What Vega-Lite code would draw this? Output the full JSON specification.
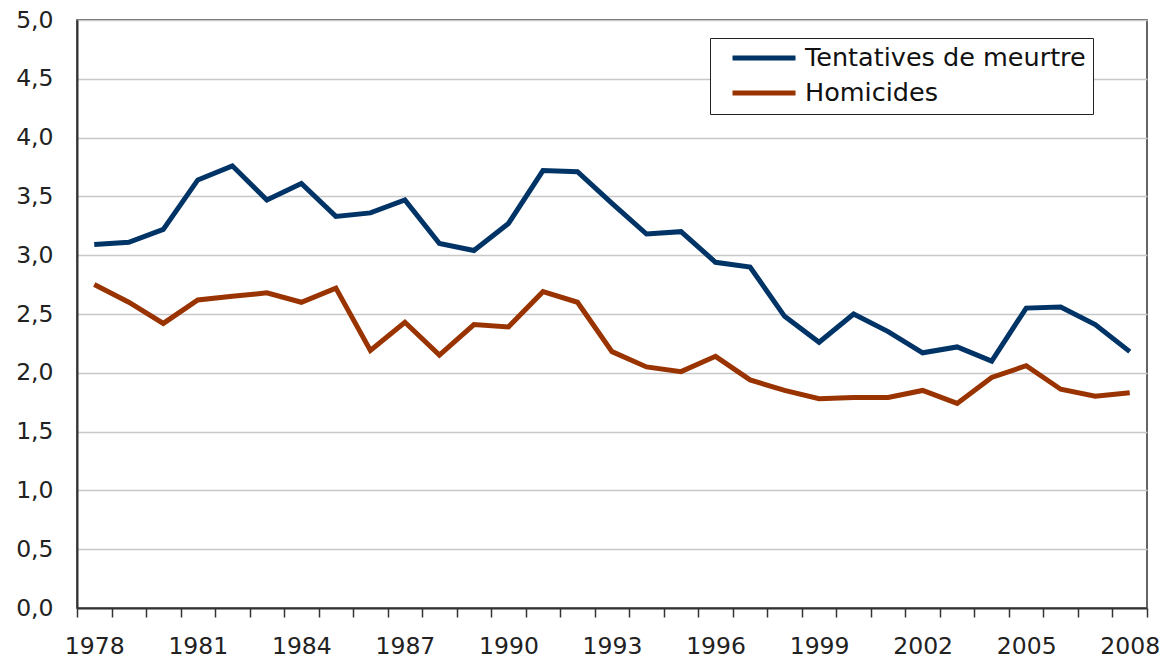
{
  "$schema": "https://vega.github.io/schema/vega-lite/v6.json",
  "width": 1070,
  "height": 588,
  "autosize": {"type": "none"},
  "padding": {"left": 77, "top": 20, "right": 16, "bottom": 51},
  "background": "white",
  "config": {"view": {"stroke": "#333333", "strokeWidth": 1.5}, "font": "DejaVu Sans"},
  "data": {"values": [
    {"annee": 1978, "serie": "Tentatives de meurtre", "taux": 3.09},
    {"annee": 1979, "serie": "Tentatives de meurtre", "taux": 3.11},
    {"annee": 1980, "serie": "Tentatives de meurtre", "taux": 3.22},
    {"annee": 1981, "serie": "Tentatives de meurtre", "taux": 3.64},
    {"annee": 1982, "serie": "Tentatives de meurtre", "taux": 3.76},
    {"annee": 1983, "serie": "Tentatives de meurtre", "taux": 3.47},
    {"annee": 1984, "serie": "Tentatives de meurtre", "taux": 3.61},
    {"annee": 1985, "serie": "Tentatives de meurtre", "taux": 3.33},
    {"annee": 1986, "serie": "Tentatives de meurtre", "taux": 3.36},
    {"annee": 1987, "serie": "Tentatives de meurtre", "taux": 3.47},
    {"annee": 1988, "serie": "Tentatives de meurtre", "taux": 3.10},
    {"annee": 1989, "serie": "Tentatives de meurtre", "taux": 3.04},
    {"annee": 1990, "serie": "Tentatives de meurtre", "taux": 3.27},
    {"annee": 1991, "serie": "Tentatives de meurtre", "taux": 3.72},
    {"annee": 1992, "serie": "Tentatives de meurtre", "taux": 3.71},
    {"annee": 1993, "serie": "Tentatives de meurtre", "taux": 3.44},
    {"annee": 1994, "serie": "Tentatives de meurtre", "taux": 3.18},
    {"annee": 1995, "serie": "Tentatives de meurtre", "taux": 3.20},
    {"annee": 1996, "serie": "Tentatives de meurtre", "taux": 2.94},
    {"annee": 1997, "serie": "Tentatives de meurtre", "taux": 2.90},
    {"annee": 1998, "serie": "Tentatives de meurtre", "taux": 2.48},
    {"annee": 1999, "serie": "Tentatives de meurtre", "taux": 2.26},
    {"annee": 2000, "serie": "Tentatives de meurtre", "taux": 2.50},
    {"annee": 2001, "serie": "Tentatives de meurtre", "taux": 2.35},
    {"annee": 2002, "serie": "Tentatives de meurtre", "taux": 2.17},
    {"annee": 2003, "serie": "Tentatives de meurtre", "taux": 2.22},
    {"annee": 2004, "serie": "Tentatives de meurtre", "taux": 2.10},
    {"annee": 2005, "serie": "Tentatives de meurtre", "taux": 2.55},
    {"annee": 2006, "serie": "Tentatives de meurtre", "taux": 2.56},
    {"annee": 2007, "serie": "Tentatives de meurtre", "taux": 2.41},
    {"annee": 2008, "serie": "Tentatives de meurtre", "taux": 2.18},
    {"annee": 1978, "serie": "Homicides", "taux": 2.75},
    {"annee": 1979, "serie": "Homicides", "taux": 2.60},
    {"annee": 1980, "serie": "Homicides", "taux": 2.42},
    {"annee": 1981, "serie": "Homicides", "taux": 2.62},
    {"annee": 1982, "serie": "Homicides", "taux": 2.65},
    {"annee": 1983, "serie": "Homicides", "taux": 2.68},
    {"annee": 1984, "serie": "Homicides", "taux": 2.60},
    {"annee": 1985, "serie": "Homicides", "taux": 2.72},
    {"annee": 1986, "serie": "Homicides", "taux": 2.19},
    {"annee": 1987, "serie": "Homicides", "taux": 2.43},
    {"annee": 1988, "serie": "Homicides", "taux": 2.15},
    {"annee": 1989, "serie": "Homicides", "taux": 2.41},
    {"annee": 1990, "serie": "Homicides", "taux": 2.39},
    {"annee": 1991, "serie": "Homicides", "taux": 2.69},
    {"annee": 1992, "serie": "Homicides", "taux": 2.60},
    {"annee": 1993, "serie": "Homicides", "taux": 2.18},
    {"annee": 1994, "serie": "Homicides", "taux": 2.05},
    {"annee": 1995, "serie": "Homicides", "taux": 2.01},
    {"annee": 1996, "serie": "Homicides", "taux": 2.14},
    {"annee": 1997, "serie": "Homicides", "taux": 1.94},
    {"annee": 1998, "serie": "Homicides", "taux": 1.85},
    {"annee": 1999, "serie": "Homicides", "taux": 1.78},
    {"annee": 2000, "serie": "Homicides", "taux": 1.79},
    {"annee": 2001, "serie": "Homicides", "taux": 1.79},
    {"annee": 2002, "serie": "Homicides", "taux": 1.85},
    {"annee": 2003, "serie": "Homicides", "taux": 1.74},
    {"annee": 2004, "serie": "Homicides", "taux": 1.96},
    {"annee": 2005, "serie": "Homicides", "taux": 2.06},
    {"annee": 2006, "serie": "Homicides", "taux": 1.86},
    {"annee": 2007, "serie": "Homicides", "taux": 1.80},
    {"annee": 2008, "serie": "Homicides", "taux": 1.83}
  ]},
  "mark": {"type": "line", "strokeWidth": 5},
  "encoding": {
    "x": {
      "field": "annee", "type": "quantitative",
      "scale": {"domain": [1977.5, 2008.5], "nice": false, "zero": false},
      "axis": {
        "title": null, "grid": false,
        "values": [1977.5, 1978, 1978.5, 1979.5, 1980.5, 1981, 1981.5, 1982.5, 1983.5, 1984, 1984.5, 1985.5, 1986.5, 1987, 1987.5, 1988.5, 1989.5, 1990, 1990.5, 1991.5, 1992.5, 1993, 1993.5, 1994.5, 1995.5, 1996, 1996.5, 1997.5, 1998.5, 1999, 1999.5, 2000.5, 2001.5, 2002, 2002.5, 2003.5, 2004.5, 2005, 2005.5, 2006.5, 2007.5, 2008, 2008.5],
        "labelExpr": "datum.value % 1 == 0 ? format(datum.value, 'd') : ''",
        "labelOverlap": false, "labelFlush": false,
        "tickOpacity": {"condition": {"test": "datum.value % 1 == 0", "value": 0}, "value": 1},
        "tickSize": 9, "tickWidth": 1.5, "tickColor": "#333333",
        "domainColor": "#333333", "domainWidth": 2,
        "labelFontSize": 23.5, "labelColor": "#222222", "labelPadding": 17
      }
    },
    "y": {
      "field": "taux", "type": "quantitative",
      "scale": {"domain": [0, 5], "nice": false},
      "axis": {
        "title": null, "values": [0, 0.5, 1, 1.5, 2, 2.5, 3, 3.5, 4, 4.5, 5],
        "labelExpr": "replace(format(datum.value, '.1f'), '.', ',')",
        "grid": true, "gridColor": "#c8c8c8", "gridWidth": 1.5,
        "tickSize": 0, "domainColor": "#333333", "domainWidth": 2,
        "labelFontSize": 23.5, "labelColor": "#222222", "labelPadding": 24
      }
    },
    "color": {
      "field": "serie", "type": "nominal",
      "scale": {"domain": ["Tentatives de meurtre", "Homicides"], "range": ["#003366", "#993300"]},
      "legend": {
        "orient": "none", "legendX": 633, "legendY": 18, "title": null,
        "symbolType": "M0.24,0H6.24", "symbolSize": 441, "symbolStrokeWidth": 5,
        "labelFontSize": 25.5, "labelColor": "#111111", "labelOffset": 62, "labelLimit": 500,
        "strokeColor": "#222222", "fillColor": "white", "padding": 7, "rowPadding": 8
      }
    }
  }
}
